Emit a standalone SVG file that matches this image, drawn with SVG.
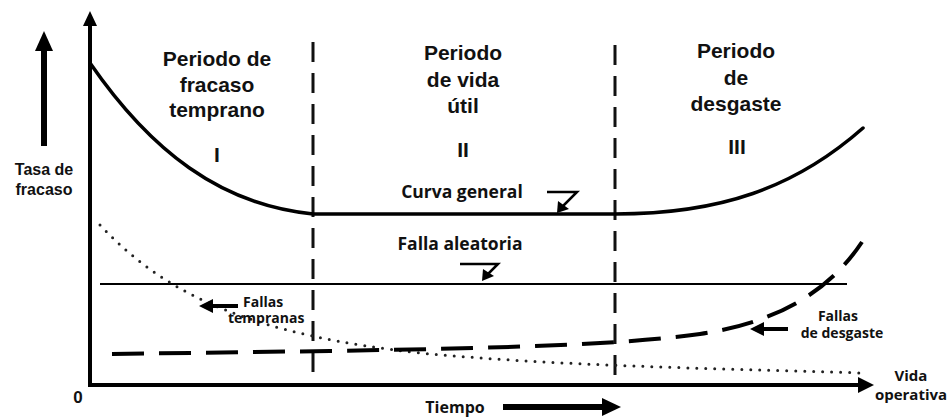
<svg xmlns="http://www.w3.org/2000/svg" width="947" height="417" viewBox="0 0 947 417">
<defs>
<style>
.title{font-family:"Liberation Sans",Arial,sans-serif;font-weight:bold;font-size:21px;fill:#111;text-anchor:middle}
.lab{font-family:"Open Sans",Lato,sans-serif;font-weight:bold;fill:#111}
.ax{stroke:#000;stroke-width:4;fill:none}
.vd{stroke:#111;stroke-width:3;stroke-dasharray:20 11;fill:none}
.ar{fill:#000}
</style>
</defs>
<rect width="947" height="417" fill="#fff"/>

<g id="axes">
<line class="ax" x1="90" y1="387" x2="90" y2="24"/>
<polygon class="ar" points="83,26 97,26 90,11"/>
<line class="ax" x1="88" y1="385" x2="860" y2="385"/>
<polygon class="ar" points="858,377 858,393 874,385"/>
<text x="78" y="403" font-size="17" font-weight="bold" fill="#111" text-anchor="middle" font-family="Liberation Sans, Arial, sans-serif">0</text>
</g>

<g id="y-label">
<rect x="41" y="49" width="6" height="97" fill="#000"/>
<polygon class="ar" points="35,51 53,51 44,31"/>
<text font-family="Liberation Sans, Arial, sans-serif" font-weight="bold" font-size="16" fill="#111" text-anchor="middle"><tspan x="44" y="175">Tasa de</tspan><tspan x="44" y="195">fracaso</tspan></text>
</g>

<g id="x-label">
<text class="lab" x="455" y="413" font-size="16" text-anchor="middle">Tiempo</text>
<rect x="503" y="404" width="101" height="6" fill="#000"/>
<polygon class="ar" points="602,398 602,416 621,407"/>
<text class="lab" font-size="15" text-anchor="middle"><tspan x="911" y="381">Vida</tspan><tspan x="911" y="400">operativa</tspan></text>
</g>

<g id="dividers">
<line class="vd" x1="313" y1="42" x2="313" y2="378"/>
<line class="vd" x1="615" y1="45" x2="615" y2="378"/>
</g>

<g id="period-1">
<text class="title"><tspan x="217" y="66">Periodo de</tspan><tspan x="217" y="92">fracaso</tspan><tspan x="217" y="117">temprano</tspan></text>
<text class="title" x="217" y="162">I</text>
</g>
<g id="period-2">
<text class="title"><tspan x="463" y="60">Periodo</tspan><tspan x="463" y="87">de vida</tspan><tspan x="463" y="113">útil</tspan></text>
<text class="title" x="463" y="157">II</text>
</g>
<g id="period-3">
<text class="title"><tspan x="736" y="58">Periodo</tspan><tspan x="736" y="85">de</tspan><tspan x="736" y="111">desgaste</tspan></text>
<text class="title" x="737" y="154">III</text>
</g>

<g id="connectors">
<path id="curva-general" d="M90,63 C150,150 220,205 313,214 L615,214 C720,214 795,188 863,128" stroke="#000" stroke-width="3.5" fill="none" stroke-linecap="round"/>
<line id="falla-aleatoria" x1="100" y1="284" x2="847" y2="284" stroke="#000" stroke-width="2"/>
<path id="fallas-tempranas" d="M100,225 C170,300 260,335 420,353 C560,366 700,368 862,373" stroke="#222" stroke-width="3" fill="none" stroke-linecap="round" stroke-dasharray="0 9"/>
<path id="fallas-desgaste" d="M112,354 L330,351 C500,348 620,345 700,334 C780,322 830,290 862,242" stroke="#000" stroke-width="4" fill="none" stroke-dasharray="32 15"/>
</g>

<g id="label-curva-general">
<text class="lab" x="462" y="198" font-size="17.5" text-anchor="middle">Curva general</text>
<polyline points="547,192 577,192 563,206" stroke="#000" stroke-width="2.5" fill="none"/>
<polygon class="ar" points="557,213 558,201 569,209"/>
</g>
<g id="label-falla-aleatoria">
<text class="lab" x="460" y="250" font-size="17.5" text-anchor="middle">Falla aleatoria</text>
<polyline points="460,264 498,264 488,274" stroke="#000" stroke-width="2.5" fill="none"/>
<polygon class="ar" points="482,281 483,269 494,276"/>
</g>
<g id="label-fallas-tempranas">
<rect x="211" y="304" width="27" height="4" fill="#000"/>
<polygon class="ar" points="213,299 213,313 199,306"/>
<text class="lab" font-size="14"><tspan x="243" y="307">Fallas</tspan><tspan x="228" y="323">tempranas</tspan></text>
</g>
<g id="label-fallas-desgaste">
<rect x="762" y="327" width="26" height="4" fill="#000"/>
<polygon class="ar" points="764,322 764,336 750,329"/>
<text class="lab" font-size="14" text-anchor="middle"><tspan x="838" y="321">Fallas</tspan><tspan x="842" y="338">de desgaste</tspan></text>
</g>
</svg>
